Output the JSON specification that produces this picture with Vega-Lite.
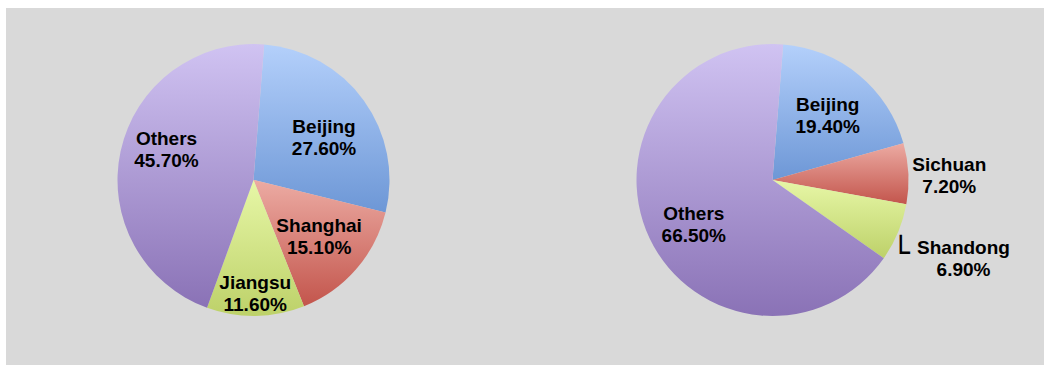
{
  "$schema": "https://vega.github.io/schema/vega-lite/v6.json",
  "background": "white",
  "padding": {"left": 6, "top": 8, "right": 1, "bottom": 1},
  "spacing": 0,
  "datasets": {
    "a": [
      {"region": "Beijing", "share": 27.6, "order": 1, "label": "Beijing\n27.60%"},
      {"region": "Shanghai", "share": 15.1, "order": 2, "label": "Shanghai\n15.10%"},
      {"region": "Jiangsu", "share": 11.6, "order": 3, "label": "Jiangsu\n11.60%"},
      {"region": "Others", "share": 45.7, "order": 4, "label": "Others\n45.70%"}
    ],
    "b": [
      {"region": "Beijing", "share": 19.4, "order": 1, "label": "Beijing\n19.40%"},
      {"region": "Sichuan", "share": 7.2, "order": 2, "label": "Sichuan\n7.20%"},
      {"region": "Shandong", "share": 6.9, "order": 3, "label": "Shandong\n6.90%"},
      {"region": "Others", "share": 66.5, "order": 4, "label": "Others\n66.50%"}
    ]
  },
  "vconcat": [
    {
      "spacing": 0,
      "hconcat": [
        {
          "width": 495,
          "height": 344,
          "view": {"fill": "#d9d9d9", "stroke": null},
          "data": {"name": "a"},
          "encoding": {
            "theta": {"field": "share", "type": "quantitative", "stack": true, "scale": {"domain": [0, 100], "range": [0.0785, 6.3617]}},
            "order": {"field": "order", "type": "quantitative"},
            "detail": {"field": "region", "type": "nominal"}
          },
          "layer": [
            {
              "mark": {"type": "arc", "radius": 136},
              "encoding": {
                "fill": {
                  "condition": [
                    {"test": "datum.region === 'Beijing'", "value": {"gradient": "linear", "x1": 0, "y1": 0, "x2": 0, "y2": 1, "stops": [{"offset": 0, "color": "#b4d0fb"}, {"offset": 1, "color": "#6d97d6"}]}},
                    {"test": "datum.region === 'Shanghai' || datum.region === 'Sichuan'", "value": {"gradient": "linear", "x1": 0, "y1": 0, "x2": 0, "y2": 1, "stops": [{"offset": 0, "color": "#ecaba3"}, {"offset": 1, "color": "#c3554c"}]}},
                    {"test": "datum.region === 'Jiangsu' || datum.region === 'Shandong'", "value": {"gradient": "linear", "x1": 0, "y1": 0, "x2": 0, "y2": 1, "stops": [{"offset": 0, "color": "#e7f7a7"}, {"offset": 1, "color": "#bdd169"}]}}
                  ],
                  "value": {"gradient": "linear", "x1": 0, "y1": 0, "x2": 0, "y2": 1, "stops": [{"offset": 0, "color": "#d0c3f2"}, {"offset": 1, "color": "#8a72b6"}]}
                }
              }
            },
            {
              "mark": {"type": "text", "radius": 87, "dy": -2, "font": "Liberation Sans", "fontWeight": "bold", "lineBreak": "\n", "lineHeight": 22, "baseline": "middle", "align": "center", "color": "#000000"},
              "encoding": {
                "text": {"condition": {"test": "datum.region === 'Beijing'", "field": "label", "type": "nominal"}, "value": ""},
                "size": {"condition": {"test": "datum.region === 'Beijing'", "value": 19}, "value": 0}
              }
            },
            {
              "mark": {"type": "text", "radius": 87, "dy": -11, "font": "Liberation Sans", "fontWeight": "bold", "lineBreak": "\n", "lineHeight": 22, "baseline": "middle", "align": "center", "color": "#000000"},
              "encoding": {
                "text": {"condition": {"test": "datum.region === 'Shanghai'", "field": "label", "type": "nominal"}, "value": ""},
                "size": {"condition": {"test": "datum.region === 'Shanghai'", "value": 19}, "value": 0}
              }
            },
            {
              "mark": {"type": "text", "radius": 89, "dy": -22, "font": "Liberation Sans", "fontWeight": "bold", "lineBreak": "\n", "lineHeight": 22, "baseline": "middle", "align": "center", "color": "#000000"},
              "encoding": {
                "text": {"condition": {"test": "datum.region === 'Others'", "field": "label", "type": "nominal"}, "value": ""},
                "size": {"condition": {"test": "datum.region === 'Others'", "value": 19}, "value": 0}
              }
            },
            {
              "mark": {"type": "text", "radius": 110, "dy": -7, "font": "Liberation Sans", "fontWeight": "bold", "lineBreak": "\n", "lineHeight": 22, "baseline": "middle", "align": "center", "color": "#000000"},
              "encoding": {
                "text": {"condition": {"test": "datum.region === 'Jiangsu'", "field": "label", "type": "nominal"}, "value": ""},
                "size": {"condition": {"test": "datum.region === 'Jiangsu'", "value": 19}, "value": 0}
              }
            }
          ]
        },
        {
          "width": 543,
          "height": 344,
          "view": {"fill": "#d9d9d9", "stroke": null},
          "data": {"name": "b"},
          "encoding": {
            "theta": {"field": "share", "type": "quantitative", "stack": true, "scale": {"domain": [0, 100], "range": [0.0785, 6.3617]}},
            "order": {"field": "order", "type": "quantitative"},
            "detail": {"field": "region", "type": "nominal"}
          },
          "layer": [
            {
              "mark": {"type": "arc", "radius": 136},
              "encoding": {
                "fill": {
                  "condition": [
                    {"test": "datum.region === 'Beijing'", "value": {"gradient": "linear", "x1": 0, "y1": 0, "x2": 0, "y2": 1, "stops": [{"offset": 0, "color": "#b4d0fb"}, {"offset": 1, "color": "#6d97d6"}]}},
                    {"test": "datum.region === 'Shanghai' || datum.region === 'Sichuan'", "value": {"gradient": "linear", "x1": 0, "y1": 0, "x2": 0, "y2": 1, "stops": [{"offset": 0, "color": "#ecaba3"}, {"offset": 1, "color": "#c3554c"}]}},
                    {"test": "datum.region === 'Jiangsu' || datum.region === 'Shandong'", "value": {"gradient": "linear", "x1": 0, "y1": 0, "x2": 0, "y2": 1, "stops": [{"offset": 0, "color": "#e7f7a7"}, {"offset": 1, "color": "#bdd169"}]}}
                  ],
                  "value": {"gradient": "linear", "x1": 0, "y1": 0, "x2": 0, "y2": 1, "stops": [{"offset": 0, "color": "#d0c3f2"}, {"offset": 1, "color": "#8a72b6"}]}
                }
              }
            },
            {
              "mark": {"type": "text", "radius": 87, "dy": -8, "font": "Liberation Sans", "fontWeight": "bold", "lineBreak": "\n", "lineHeight": 22, "baseline": "middle", "align": "center", "color": "#000000"},
              "encoding": {
                "text": {"condition": {"test": "datum.region === 'Beijing'", "field": "label", "type": "nominal"}, "value": ""},
                "size": {"condition": {"test": "datum.region === 'Beijing'", "value": 19}, "value": 0}
              }
            },
            {
              "mark": {"type": "text", "radius": 87, "dy": -3, "font": "Liberation Sans", "fontWeight": "bold", "lineBreak": "\n", "lineHeight": 22, "baseline": "middle", "align": "center", "color": "#000000"},
              "encoding": {
                "text": {"condition": {"test": "datum.region === 'Others'", "field": "label", "type": "nominal"}, "value": ""},
                "size": {"condition": {"test": "datum.region === 'Others'", "value": 19}, "value": 0}
              }
            },
            {
              "mark": {"type": "text", "radius": 177, "dy": -7, "font": "Liberation Sans", "fontWeight": "bold", "lineBreak": "\n", "lineHeight": 22, "baseline": "middle", "align": "center", "color": "#000000"},
              "encoding": {
                "text": {"condition": {"test": "datum.region === 'Sichuan'", "field": "label", "type": "nominal"}, "value": ""},
                "size": {"condition": {"test": "datum.region === 'Sichuan'", "value": 19}, "value": 0}
              }
            },
            {
              "mark": {"type": "text", "radius": 207, "dy": -12, "font": "Liberation Sans", "fontWeight": "bold", "lineBreak": "\n", "lineHeight": 22, "baseline": "middle", "align": "center", "color": "#000000"},
              "encoding": {
                "text": {"condition": {"test": "datum.region === 'Shandong'", "field": "label", "type": "nominal"}, "value": ""},
                "size": {"condition": {"test": "datum.region === 'Shandong'", "value": 19}, "value": 0}
              }
            },
            {
              "mark": {"type": "text", "radius": 150, "dx": -10, "dy": 25, "font": "DejaVu Sans", "baseline": "alphabetic", "align": "center", "color": "#000000"},
              "encoding": {
                "text": {"condition": {"test": "datum.region === 'Shandong'", "value": "└"}, "value": ""},
                "size": {"condition": {"test": "datum.region === 'Shandong'", "value": 30}, "value": 0}
              }
            }
          ]
        }
      ]
    },
    {
      "width": 1038,
      "height": 13,
      "view": {"fill": "#d9d9d9", "stroke": null},
      "data": {"values": [{}]},
      "mark": {"type": "text"},
      "encoding": {}
    }
  ],
  "config": {
    "view": {"fill": "#d9d9d9", "stroke": null},
    "style": {"cell": {"fill": "#d9d9d9", "stroke": null}},
    "concat": {"spacing": 0}
  }
}
